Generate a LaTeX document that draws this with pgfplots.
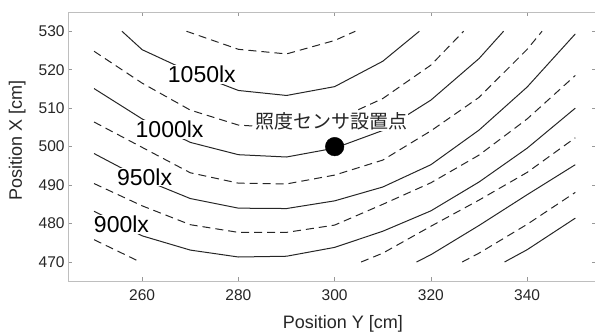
\documentclass[border=0pt]{standalone}
\usepackage{pgfplots}
\pgfplotsset{compat=1.18}
\usepackage{fontspec}
\setmainfont{Liberation Sans}
\newfontfamily\cjk{Noto Sans CJK JP}
\definecolor{frame}{RGB}{190,190,190}
\definecolor{txt}{RGB}{38,38,38}
\tikzset{solidc/.style={black!85, line width=1pt, mark=none},
         dashc/.style={black!85, line width=1pt, mark=none, dash pattern=on 8pt off 5pt}}
\begin{document}
\begin{tikzpicture}
\begin{axis}[name=ax,
  width=527pt, height=269pt, scale only axis,
  xmin=244.6, xmax=354.2, ymin=465, ymax=535,
  xtick={260,280,300,320,340}, ytick={470,480,490,500,510,520,530},
  tick align=inside, major tick length=4pt,
  axis line style={frame, line width=0.8pt},
  tick style={frame!80!black, line width=0.6pt},
  ticklabel style={font=\fontsize{15.5}{18}\selectfont, text=txt},
  /pgf/number format/assume math mode=true,
  xticklabel style={yshift=-5pt},
  clip=false,
]
% dashed 1075
\addplot[dashc] coordinates {(269.2,530) (280,525.3) (290,524.1) (300,527.6) (304.3,530)};
% solid 1050
\addplot[solidc] coordinates {(255.8,530) (260,525.2) (270,519.4) (280,514.6) (290,513.3) (300,515.6) (310,522.2) (317.6,530)};
% dashed 1025
\addplot[dashc] coordinates {(250,524.8) (260,516.5) (270,509.5) (280,505.6) (290,504.8) (300,506.8) (310,512.5) (320,521.2) (326.8,530)};
% solid 1000
\addplot[solidc] coordinates {(250,515.1) (260,507.2) (270,501.1) (280,497.9) (290,497.3) (300,499.6) (310,504.2) (320,512.1) (330,522.9) (335.1,530)};
% dashed 975
\addplot[dashc] coordinates {(250,506.4) (260,499.8) (270,493.2) (280,490.5) (290,490.3) (300,492.6) (310,496.5) (320,504.1) (330,512.8) (340,525.3) (343.1,530)};
% solid 950
\addplot[solidc] coordinates {(250,498.2) (260,491.6) (270,486.5) (280,484.0) (290,483.9) (300,485.9) (310,489.5) (320,495.3) (330,504.3) (340,515.5) (350,529.3)};
% dashed 925
\addplot[dashc] coordinates {(250,490.4) (260,484.6) (270,479.7) (280,477.7) (290,477.7) (300,479.6) (310,485.0) (320,490.6) (330,497.8) (340,507.2) (350,518.5)};
% solid 900
\addplot[solidc] coordinates {(250,483.2) (260,476.8) (270,473.1) (280,471.3) (290,471.5) (300,473.8) (310,478.0) (320,483.3) (330,490.8) (340,499.6) (350,510)};
% dashed 875
\addplot[dashc] coordinates {(250,475.8) (259.6,470)};
\addplot[dashc] coordinates {(305.5,470) (310,472.3) (320,479.3) (330,486.1) (340,493.3) (350,502.3)};
% solid 850
\addplot[solidc] coordinates {(317,470) (320,471.9) (330,479.5) (340,487.5) (350,495.3)};
% dashed 825
\addplot[dashc] coordinates {(326.5,470) (330,472.3) (340,479.8) (350,488.1)};
% solid 800
\addplot[solidc] coordinates {(335.3,470) (340,473.2) (350,481.4)};
% labels
\node[fill=white, inner sep=1pt, font=\fontsize{23}{26}\selectfont, text=black] at (axis cs:272.4,518.7) {1050lx};
\node[fill=white, inner sep=1pt, font=\fontsize{23}{26}\selectfont, text=black] at (axis cs:265.7,504.4) {1000lx};
\node[fill=white, inner sep=1pt, font=\fontsize{23}{26}\selectfont, text=black] at (axis cs:260.5,492.1) {950lx};
\node[fill=white, inner sep=1pt, font=\fontsize{23}{26}\selectfont, text=black] at (axis cs:255.7,479.7) {900lx};
\node[fill=white, inner sep=1pt, font=\cjk\fontsize{19}{22}\selectfont, text=txt] at (axis cs:299.3,506.6) {照度センサ設置点};
\addplot[only marks, mark=*, mark size=9.3pt, color=black, mark options={fill=black}] coordinates {(300,500)};
% axis titles
\node[anchor=base, font=\fontsize{18}{21}\selectfont, text=txt] at (axis cs:301.7,452.7) {Position Y [cm]};
\node[anchor=base, rotate=90, font=\fontsize{18}{21}\selectfont, text=txt] at (axis cs:235.0,501.6) {Position X [cm]};
\end{axis}
\pgfresetboundingbox
\path[use as bounding box] ([xshift=-68pt,yshift=-50pt]ax.south west) rectangle ([xshift=-0.5pt,yshift=12pt]ax.north east);
\end{tikzpicture}
\end{document}
